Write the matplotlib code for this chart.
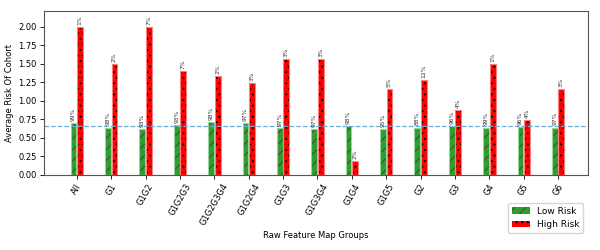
import matplotlib
matplotlib.use('Agg')
import matplotlib.pyplot as plt
import numpy as np

groups = ['All', 'G1', 'G1G2', 'G1G2G3', 'G1G2G3G4', 'G1G2G4', 'G1G3', 'G1G3G4',
          'G1G4', 'G1G5', 'G2', 'G3', 'G4', 'G5', 'G6']
low_risk = [0.70, 0.64, 0.62, 0.67, 0.71, 0.70, 0.63, 0.62, 0.66, 0.62, 0.64, 0.66, 0.64, 0.65, 0.64]
high_risk = [1.99, 1.49, 1.99, 1.40, 1.33, 1.24, 1.56, 1.56, 0.19, 1.16, 1.28, 0.87, 1.49, 0.74, 1.16]
low_pct = ['99%', '98%', '93%', '93%', '98%', '97%', '97%', '97%', '98%', '95%', '88%', '96%', '99%', '96%', '97%']
high_pct = ['1%', '2%', '7%', '7%', '2%', '3%', '3%', '3%', '2%', '5%', '12%', '4%', '1%', '4%', '3%']
overall_avg = 0.656

x = np.arange(len(groups))
w = 0.17

plt.rcParams['hatch.linewidth'] = 0.7
fig = plt.figure(figsize=(6, 2.5), dpi=100)
ax = fig.add_axes([0.073, 0.30, 0.907, 0.656])

# filled + hatched bars
ax.bar(x - w / 2 - 0.01, low_risk, w, color='#2ca02c', hatch='///', edgecolor='#444444', linewidth=0)
ax.bar(x + w / 2 + 0.01, high_risk, w, color='#ff0000', hatch='...', edgecolor='#000000', linewidth=0)
# light outlines
ax.bar(x - w / 2 - 0.01, low_risk, w, fill=False, edgecolor='#98d598', linewidth=0.8)
ax.bar(x + w / 2 + 0.01, high_risk, w, fill=False, edgecolor='#ff8080', linewidth=0.8)

# legend handles
h1 = ax.bar([0], [0], 0, color='#2ca02c', hatch='///', edgecolor='#444444', linewidth=0, label='Low Risk')
h2 = ax.bar([0], [0], 0, color='#ff0000', hatch='...', edgecolor='#000000', linewidth=0, label='High Risk')

for i in range(len(groups)):
    ax.text(x[i] - w / 2 - 0.01, low_risk[i] + 0.03, low_pct[i], rotation=90,
            ha='center', va='bottom', fontsize=4.3, color='#333333')
    ax.text(x[i] + w / 2 + 0.01, high_risk[i] + 0.03, high_pct[i], rotation=90,
            ha='center', va='bottom', fontsize=4.3, color='#333333')

ax.axhline(overall_avg, color='#6baed6', linestyle='--', linewidth=0.9)

ax.set_xlim(-0.96, 14.87)
ax.set_ylim(0, 2.21)
ax.set_yticks(np.arange(0, 2.01, 0.25))
ax.set_yticklabels(['%.2f' % v for v in np.arange(0, 2.01, 0.25)], fontsize=6)
ax.set_xticks(x)
ax.set_xticklabels(groups, rotation=60, fontsize=6)
ax.tick_params(axis='both', length=3, width=0.6, pad=2)
ax.set_ylabel('Average Risk Of Cohort', fontsize=6, labelpad=3)
ax.set_xlabel('Raw Feature Map Groups', fontsize=6, labelpad=3)
for s in ax.spines.values():
    s.set_color('#555555')
    s.set_linewidth(0.8)

ax.legend(handles=[h1, h2], loc='lower right', bbox_to_anchor=(1.0, -0.38), fontsize=6.5)

plt.savefig('out.png', dpi=100)
